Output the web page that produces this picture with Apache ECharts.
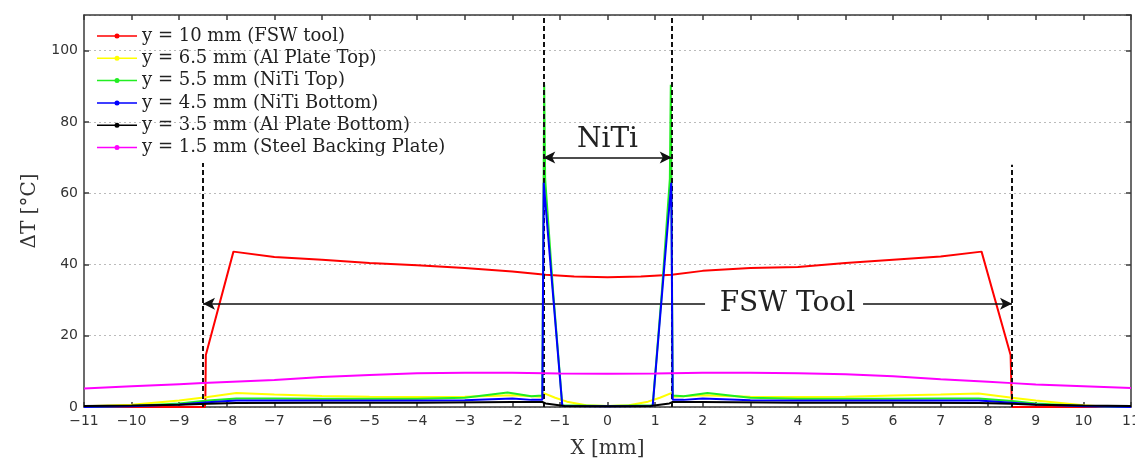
<!DOCTYPE html>
<html>
<head>
<meta charset="utf-8">
<script src="https://cdn.jsdelivr.net/npm/echarts@6/dist/echarts.min.js"></script>
<style>
  html, body { margin: 0; padding: 0; background: #fff; }
  #chart { width: 1135px; height: 459px; }
</style>
</head>
<body>
<div id="chart"></div>
<script>
// Temperature rise ΔT [°C] along X [mm] at several depths y of the weld stack.
const seriesNames = [
  'y = 10 mm (FSW tool)',
  'y = 6.5 mm (Al Plate Top)',
  'y = 5.5 mm (NiTi Top)',
  'y = 4.5 mm (NiTi Bottom)',
  'y = 3.5 mm (Al Plate Bottom)',
  'y = 1.5 mm (Steel Backing Plate)'
];
const seriesColors = ['#ff0000', '#ffff00', '#22ee22', '#0000ff', '#000000', '#ff00ff'];

// [x mm, ΔT °C]
const tool10 = [
  [-11, 0], [-8.46, 0], [-8.45, 2], [-8.44, 14.6], [-7.86, 43.6], [-7, 42.1], [-6, 41.3],
  [-5, 40.4], [-4, 39.8], [-3, 39.0], [-2, 38.0], [-1.3, 37.1], [-0.7, 36.6], [0, 36.4],
  [0.7, 36.6], [1.35, 37.1], [2, 38.2], [3, 39.0], [4, 39.3], [5, 40.4], [6, 41.3],
  [7, 42.2], [7.86, 43.6], [8.47, 14.6], [8.49, 3.9], [8.5, 0], [11, 0]
];
const alTop65 = [
  [-11, 0.2], [-10, 0.6], [-9, 1.8], [-8.4, 2.8], [-7.8, 3.9], [-7, 3.5], [-6, 3.1],
  [-5, 2.9], [-4, 2.8], [-3, 2.9], [-2, 3.3], [-1.6, 3.0], [-1.37, 2.9], [-1.34, 3.9],
  [-1.1, 2.6], [-0.85, 1.5], [-0.45, 0.5], [0, 0.3], [0.45, 0.5], [0.85, 1.5],
  [1.1, 2.6], [1.34, 3.9], [1.37, 2.9], [1.6, 3.0], [2, 3.3], [3, 2.9], [4, 2.8],
  [5, 2.9], [6, 3.2], [7, 3.5], [7.8, 3.8], [8.5, 2.6], [9, 1.8], [10, 0.5], [10.5, 0.1], [11, 0]
];
const nitiTop55 = [
  [-11, 0], [-10, 0.3], [-9, 1.0], [-8.4, 1.8], [-7.8, 2.4], [-7, 2.4], [-6, 2.3],
  [-5, 2.3], [-4, 2.3], [-3, 2.6], [-2.1, 4.1], [-1.6, 3.0], [-1.37, 3.2], [-1.33, 90.4],
  [-1.31, 64], [-1.14, 32], [-0.95, 0.5], [0, 0.3], [0.95, 0.5], [1.14, 32], [1.31, 64],
  [1.33, 90.4], [1.37, 3.2], [1.6, 3.0], [2.1, 3.9], [3, 2.6], [4, 2.3], [5, 2.3],
  [6, 2.3], [7, 2.4], [7.8, 2.4], [8.5, 1.7], [9, 1.0], [10, 0.3], [11, 0]
];
const nitiBottom45 = [
  [-11, 0], [-10, 0.2], [-9, 0.7], [-8.4, 1.3], [-7.8, 1.8], [-7, 1.8], [-5, 1.8],
  [-4, 1.8], [-3, 1.9], [-2, 2.4], [-1.6, 2.0], [-1.37, 2.0], [-1.34, 62.9], [-0.95, 0.3],
  [0, 0.2], [0.95, 0.3], [1.34, 62.9], [1.37, 2.0], [1.6, 2.0], [2, 2.4], [3, 1.9],
  [4, 1.8], [5, 1.8], [7, 1.8], [7.8, 1.8], [8.5, 1.2], [9, 0.7], [10, 0.2], [11, 0]
];
const alBottom35 = [
  [-11, 0.3], [-10, 0.4], [-9, 0.6], [-8.4, 0.9], [-7.8, 1.1], [-6, 1.2], [-4, 1.2],
  [-2, 1.4], [-1.37, 1.4], [-1.3, 1.0], [-0.9, 0.3], [0, 0.2], [0.9, 0.3], [1.3, 1.0],
  [1.37, 1.4], [2, 1.4], [4, 1.2], [6, 1.2], [7.8, 1.1], [8.5, 0.9], [9, 0.6],
  [10, 0.4], [11, 0.3]
];
const steel15 = [
  [-11, 5.2], [-10, 5.8], [-9, 6.4], [-8.5, 6.7], [-8, 7.0], [-7, 7.6], [-6, 8.4],
  [-5, 9.0], [-4, 9.5], [-3, 9.6], [-2, 9.6], [-1, 9.4], [0, 9.3], [1, 9.4], [2, 9.6],
  [3, 9.6], [4, 9.5], [5, 9.2], [6, 8.6], [7, 7.8], [8, 7.1], [8.5, 6.7], [9, 6.3],
  [10, 5.8], [11, 5.3]
];
const seriesData = [tool10, alTop65, nitiTop55, nitiBottom45, alBottom35, steel15];

// Region markers: tool shoulder edges and NiTi strip edges (x mm, top ΔT)
const toolEdges = [[-8.5, 68.5], [8.5, 68]];
const nitiEdges = [[-1.35, 110], [1.35, 110]];
// Dimension arrows
const nitiArrowY = 70;
const toolArrowY = 29;
const toolTextGap = [2.05, 5.37];
const nitiLabelPos = [0, 75];
const toolLabelPos = [3.78, 29];

const xTicks = { min: -11, max: 11, step: 1 };
const yTicks = { min: 0, max: 110, step: 20 };

const serif = '"DejaVu Serif", "Liberation Serif", serif';
const sans = '"DejaVu Sans", "Liberation Sans", sans-serif';
const axisColor = '#3a3a3a';
const fmtNum = v => (v < 0 ? '\u2212' + Math.abs(v) : String(v));

const dashed = { color: '#111', width: 2, type: [5, 3] };
const solidArrow = { color: '#111', width: 1.5, type: 'solid' };

// Legend key: short line with a filled dot in the middle
const legendIcon = 'path://M0,1.75h40v1.5h-40z M17.5,2.5a2.5,2.5 0 1,1 5,0a2.5,2.5 0 1,1 -5,0z';

const guideLines = [
  ...toolEdges.map(([x, top]) => [
    { coord: [x, 0], symbol: 'none', lineStyle: dashed },
    { coord: [x, top], symbol: 'none' }
  ]),
  ...nitiEdges.map(([x, top]) => [
    { coord: [x, 0], symbol: 'none', lineStyle: dashed },
    { coord: [x, top], symbol: 'none' }
  ]),
  [
    { coord: [nitiEdges[0][0], nitiArrowY], symbol: 'arrow', lineStyle: solidArrow },
    { coord: [nitiEdges[1][0], nitiArrowY], symbol: 'arrow' }
  ],
  [
    { coord: [toolTextGap[0], toolArrowY], symbol: 'none', lineStyle: solidArrow },
    { coord: [toolEdges[0][0], toolArrowY], symbol: 'arrow' }
  ],
  [
    { coord: [toolTextGap[1], toolArrowY], symbol: 'none', lineStyle: solidArrow },
    { coord: [toolEdges[1][0], toolArrowY], symbol: 'arrow' }
  ]
];

const lineSeries = seriesNames.map((name, i) => ({
  name,
  type: 'line',
  data: seriesData[i],
  symbol: 'circle',
  symbolSize: 4,
  showSymbol: false,
  lineStyle: { width: 2, color: seriesColors[i] },
  itemStyle: { color: seriesColors[i] },
  animation: false,
  silent: true,
  z: 2 + i
}));

const guideSeries = {
  name: 'guides',
  type: 'line',
  data: [],
  silent: true,
  animation: false,
  markLine: {
    silent: true,
    animation: false,
    symbolSize: [9, 12],
    label: { show: false },
    emphasis: { disabled: true },
    lineStyle: solidArrow,
    data: guideLines
  },
  markPoint: {
    silent: true,
    animation: false,
    symbol: 'circle',
    symbolSize: 0,
    data: [
      { coord: nitiLabelPos, label: { show: true, formatter: 'NiTi', fontFamily: serif, fontSize: 28, color: '#222' } },
      { coord: toolLabelPos, label: { show: true, formatter: 'FSW Tool', fontFamily: serif, fontSize: 28, color: '#222' } }
    ]
  },
  z: 10
};

const chart = echarts.init(document.getElementById('chart'), null, { renderer: 'canvas' });
chart.setOption({
  backgroundColor: '#fff',
  animation: false,
  grid: { left: 84, right: 4, top: 15, bottom: 52, containLabel: false, outerBoundsMode: 'none' },
  legend: {
    data: seriesNames.map(name => ({ name, icon: legendIcon })),
    orient: 'vertical',
    left: 97,
    top: 27,
    itemWidth: 40,
    itemHeight: 5,
    itemGap: 4.3,
    padding: 0,
    selectedMode: false,
    textStyle: { fontFamily: serif, fontSize: 18, color: '#222', lineHeight: 16 }
  },
  xAxis: [
    {
      type: 'value', min: xTicks.min, max: xTicks.max, interval: xTicks.step,
      name: 'X [mm]', nameLocation: 'middle', nameGap: 32,
      nameTextStyle: { fontFamily: serif, fontSize: 20, color: '#333' },
      axisLine: { onZero: false, lineStyle: { color: axisColor, width: 1.5 } },
      axisTick: { inside: true, length: 5, lineStyle: { color: axisColor, width: 1.5 } },
      axisLabel: { formatter: fmtNum, fontFamily: sans, fontSize: 14, color: '#333', margin: 7 },
      splitLine: { show: false }
    },
    {
      type: 'value', position: 'top', min: xTicks.min, max: xTicks.max, interval: xTicks.step,
      axisLine: { onZero: false, lineStyle: { color: axisColor, width: 1.5 } },
      axisTick: { inside: true, length: 5, lineStyle: { color: axisColor, width: 1.5 } },
      axisLabel: { show: false },
      splitLine: { show: false }
    }
  ],
  yAxis: [
    {
      type: 'value', min: yTicks.min, max: yTicks.max, interval: yTicks.step,
      name: 'ΔT [°C]', nameLocation: 'middle', nameGap: 44,
      nameTextStyle: { fontFamily: serif, fontSize: 20, color: '#333' },
      axisLine: { show: true, onZero: false, lineStyle: { color: axisColor, width: 1.5 } },
      axisTick: { show: true, inside: true, length: 5, lineStyle: { color: axisColor, width: 1.5 } },
      axisLabel: { formatter: fmtNum, showMaxLabel: false, fontFamily: sans, fontSize: 14, color: '#333', margin: 6 },
      splitLine: { show: true, lineStyle: { color: '#bbb', width: 1.2, type: [2, 3] } }
    },
    {
      type: 'value', position: 'right', min: yTicks.min, max: yTicks.max, interval: yTicks.step,
      axisLine: { show: true, onZero: false, lineStyle: { color: axisColor, width: 1.5 } },
      axisTick: { show: true, inside: true, length: 5, lineStyle: { color: axisColor, width: 1.5 } },
      axisLabel: { show: false },
      splitLine: { show: false }
    }
  ],
  series: [...lineSeries, guideSeries]
});
</script>
</body>
</html>
